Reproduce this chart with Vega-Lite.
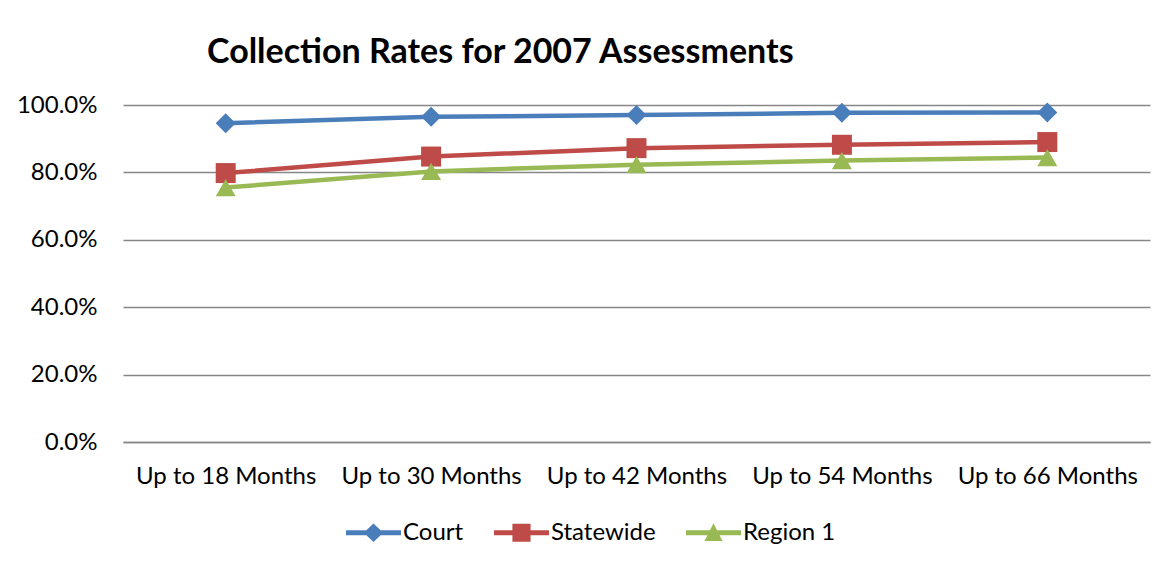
{
  "$schema": "https://vega.github.io/schema/vega-lite/v6.json",
  "width": 1027,
  "height": 337,
  "padding": {"left": 123, "top": 105, "right": 18, "bottom": 127},
  "autosize": {"type": "none"},
  "background": "white",
  "title": {
    "text": "Collection Rates for 2007 Assessments",
    "font": "Lato",
    "fontSize": 34,
    "fontWeight": "bold",
    "color": "#000000",
    "anchor": "start",
    "frame": "group",
    "dx": 84,
    "offset": 23
  },
  "config": {
    "view": {"stroke": null},
    "font": "Lato",
    "axis": {
      "labelFont": "Lato",
      "labelFontSize": 24,
      "labelColor": "#000000",
      "labelLimit": 0,
      "title": null
    },
    "legend": {
      "labelFont": "Lato",
      "labelFontSize": 24,
      "labelColor": "#000000",
      "labelLimit": 0
    }
  },
  "data": {
    "values": [
      {"period": "Up to 18 Months", "series": "Court", "rate": 0.946},
      {"period": "Up to 30 Months", "series": "Court", "rate": 0.965},
      {"period": "Up to 42 Months", "series": "Court", "rate": 0.970},
      {"period": "Up to 54 Months", "series": "Court", "rate": 0.977},
      {"period": "Up to 66 Months", "series": "Court", "rate": 0.978},
      {"period": "Up to 18 Months", "series": "Statewide", "rate": 0.798},
      {"period": "Up to 30 Months", "series": "Statewide", "rate": 0.847},
      {"period": "Up to 42 Months", "series": "Statewide", "rate": 0.872},
      {"period": "Up to 54 Months", "series": "Statewide", "rate": 0.882},
      {"period": "Up to 66 Months", "series": "Statewide", "rate": 0.890},
      {"period": "Up to 18 Months", "series": "Region 1", "rate": 0.755},
      {"period": "Up to 30 Months", "series": "Region 1", "rate": 0.803},
      {"period": "Up to 42 Months", "series": "Region 1", "rate": 0.823},
      {"period": "Up to 54 Months", "series": "Region 1", "rate": 0.835},
      {"period": "Up to 66 Months", "series": "Region 1", "rate": 0.844}
    ]
  },
  "encoding": {
    "x": {
      "field": "period",
      "type": "ordinal",
      "sort": null,
      "scale": {"type": "point", "padding": 0.5},
      "axis": {
        "labelAngle": 0,
        "ticks": false,
        "domain": true,
        "domainColor": "#868686",
        "domainWidth": 1.5,
        "labelPadding": 22,
        "grid": false
      }
    },
    "y": {
      "field": "rate",
      "type": "quantitative",
      "scale": {"domain": [0, 1]},
      "axis": {
        "format": ".1%",
        "values": [0, 0.2, 0.4, 0.6, 0.8, 1.0],
        "ticks": false,
        "domain": false,
        "grid": true,
        "gridColor": "#868686",
        "gridWidth": 1.5,
        "labelPadding": 26
      }
    }
  },
  "layer": [
    {
      "mark": {"type": "line", "strokeWidth": 4.5},
      "encoding": {
        "color": {
          "field": "series",
          "type": "nominal",
          "scale": {"domain": ["Court", "Statewide", "Region 1"], "range": ["#4A7EBB", "#BE4B48", "#98B954"]},
          "legend": null
        }
      }
    },
    {
      "mark": {"type": "point", "filled": true, "opacity": 1, "size": 400},
      "encoding": {
        "color": {
          "field": "series",
          "type": "nominal",
          "scale": {"domain": ["Court", "Statewide", "Region 1"], "range": ["#4A7EBB", "#BE4B48", "#98B954"]},
          "legend": null
        },
        "shape": {
          "field": "series",
          "type": "nominal",
          "scale": {"domain": ["Court", "Statewide", "Region 1"], "range": ["diamond", "square", "triangle-up"]},
          "legend": null
        }
      }
    },
    {
      "mark": {"type": "point", "filled": true, "opacity": 0, "size": 3025},
      "encoding": {
        "color": {
          "field": "series",
          "type": "nominal",
          "scale": {"domain": ["Court", "Statewide", "Region 1"], "range": ["#4A7EBB", "#BE4B48", "#98B954"]},
          "legend": {
            "title": null,
            "orient": "none",
            "legendX": 223,
            "legendY": 400,
            "direction": "horizontal",
            "symbolSize": 3025,
            "symbolOpacity": 1,
            "symbolStrokeWidth": 0,
            "labelOffset": 2,
            "columnPadding": 30
          }
        },
        "shape": {
          "field": "series",
          "type": "nominal",
          "scale": {
            "domain": ["Court", "Statewide", "Region 1"],
            "range": [
              "M-1,-0.09H-0.26L0,-0.34L0.26,-0.09H1V0.09H0.26L0,0.34L-0.26,0.09H-1Z",
              "M-1,-0.09H-0.33V-0.33H0.33V-0.09H1V0.09H0.33V0.33H-0.33V0.09H-1Z",
              "M-1,-0.09H-0.13L0,-0.35L0.13,-0.09H1V0.09H0.22L0.33,0.3H-0.33L-0.22,0.09H-1Z"
            ]
          },
          "legend": {
            "title": null,
            "orient": "none",
            "legendX": 223,
            "legendY": 400,
            "direction": "horizontal",
            "symbolSize": 3025,
            "symbolOpacity": 1,
            "symbolStrokeWidth": 0,
            "labelOffset": 2,
            "columnPadding": 30
          }
        }
      }
    }
  ],
  "resolve": {"scale": {"shape": "independent", "color": "independent"}}
}
